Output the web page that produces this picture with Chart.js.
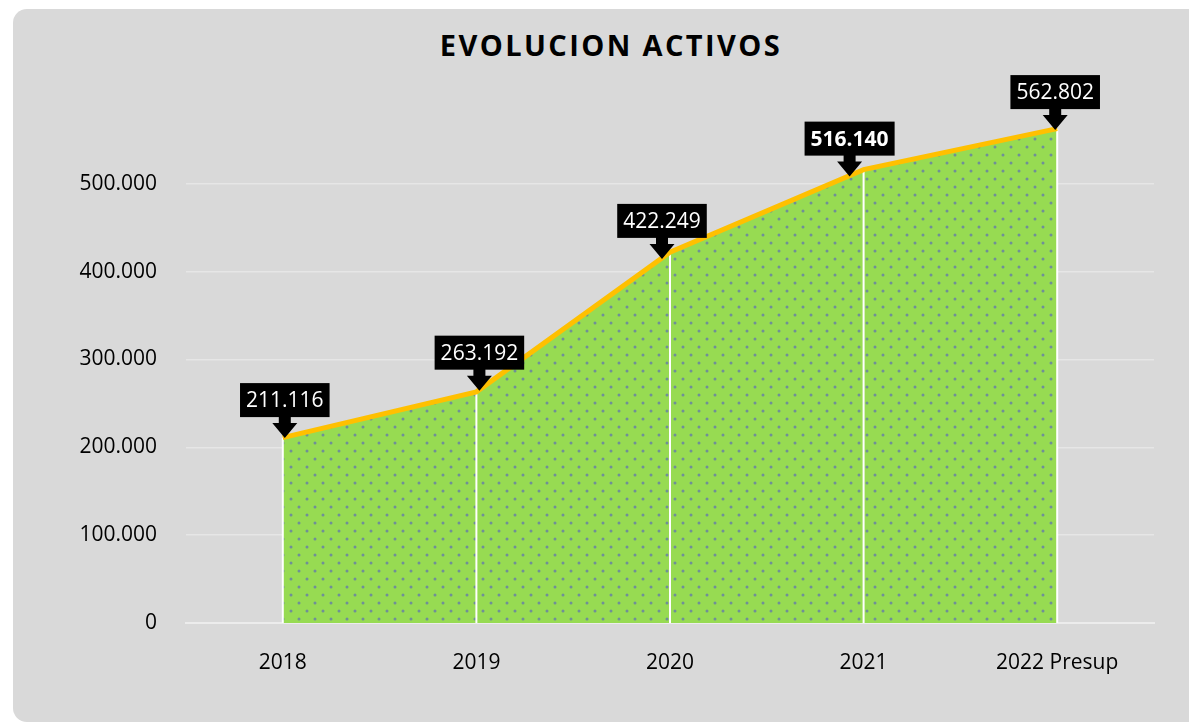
<!DOCTYPE html>
<html>
<head>
<meta charset="utf-8">
<script src="https://cdn.jsdelivr.net/npm/chart.js@4"></script>
<style>
  html, body { margin: 0; padding: 0; background: #fff; overflow: hidden; }
  #panel {
    position: absolute; left: 13px; top: 9px; width: 1196px; height: 713px;
    background: #d9d9d9; border-radius: 14px;
  }
  #title {
    position: absolute; left: 13px; top: 25px; width: 1196px; text-align: center;
    font-family: "Open Sans", sans-serif; font-weight: bold; font-size: 29px;
    letter-spacing: 2.4px; color: #000;
  }
  #wrap { position: absolute; left: 0; top: 0; width: 1189px; height: 723px; }
</style>
</head>
<body>
<div id="panel"></div>
<div id="title">EVOLUCION ACTIVOS</div>
<div id="wrap"><canvas id="activosChart" width="1189" height="723"></canvas></div>
<script>
// Data
const years = ['2018', '2019', '2020', '2021', '2022 Presup'];
const activos = [211116, 263192, 422249, 516140, 562802];
const yTicks = [0, 100000, 200000, 300000, 400000, 500000];

// number format with dots as thousand separator
function fmt(v) {
  return String(v).replace(/\B(?=(\d{3})+(?!\d))/g, '.');
}

// dotted green fill pattern
function makePattern() {
  const c = document.createElement('canvas');
  c.width = 16; c.height = 16;
  const g = c.getContext('2d');
  g.fillStyle = '#97db52';
  g.fillRect(0, 0, 16, 16);
  g.fillStyle = '#6f8f98';
  [[3, 3], [11, 11]].forEach(p => {
    g.beginPath();
    g.arc(p[0], p[1], 1.5, 0, Math.PI * 2);
    g.fill();
  });
  return g.createPattern(c, 'repeat');
}

// white drop lines, drawn after fill but before the line
const dropLines = {
  id: 'dropLines',
  beforeDatasetDraw(chart) {
    const ctx = chart.ctx;
    const pts = chart.getDatasetMeta(0).data;
    const base = chart.scales.y.getPixelForValue(0);
    ctx.save();
    ctx.strokeStyle = '#ffffff';
    ctx.lineWidth = 2;
    pts.forEach(p => {
      ctx.beginPath();
      ctx.moveTo(p.x, p.y);
      ctx.lineTo(p.x, base);
      ctx.stroke();
    });
    ctx.restore();
  }
};

// black callout labels with arrow
const callouts = {
  id: 'callouts',
  afterDatasetsDraw(chart, args, opts) {
    const ctx = chart.ctx;
    const pts = chart.getDatasetMeta(0).data;
    const shift = opts.shift || [];
    ctx.save();
    pts.forEach((p, i) => {
      const tipX = p.x + (shift[i] || 0);
      // y of the line at tipX
      let tipY = p.y;
      const j = tipX < p.x ? i - 1 : i + 1;
      if (pts[j]) {
        const q = pts[j];
        tipY = p.y + (q.y - p.y) * (tipX - p.x) / (q.x - p.x);
      }
      tipY += 1;
      ctx.font = (i === opts.boldIndex ? 'bold ' : '') + '21px "Open Sans", sans-serif';
      const txt = fmt(activos[i]);
      const w = Math.max(ctx.measureText(txt).width + 12, 88);
      const h = 34;
      const boxBottom = tipY - 21;
      ctx.fillStyle = '#000';
      ctx.fillRect(tipX - w / 2, boxBottom - h, w, h);
      // shaft + head
      ctx.beginPath();
      ctx.moveTo(tipX - 6, boxBottom - 1);
      ctx.lineTo(tipX + 6, boxBottom - 1);
      ctx.lineTo(tipX + 6, boxBottom + 6);
      ctx.lineTo(tipX + 12.5, boxBottom + 6);
      ctx.lineTo(tipX, tipY);
      ctx.lineTo(tipX - 12.5, boxBottom + 6);
      ctx.lineTo(tipX - 6, boxBottom + 6);
      ctx.closePath();
      ctx.fill();
      ctx.fillStyle = '#fff';
      ctx.textAlign = 'center';
      ctx.textBaseline = 'middle';
      ctx.fillText(txt, tipX, boxBottom - h / 2 + 1);
    });
    ctx.restore();
  }
};

const ctx = document.getElementById('activosChart').getContext('2d');
const activosChart = new Chart(ctx, {
  type: 'line',
  data: {
    labels: years,
    datasets: [{
      label: 'Activos',
      data: activos,
      borderColor: '#ffc000',
      borderWidth: 5,
      backgroundColor: makePattern(),
      fill: 'origin',
      pointRadius: 0,
      tension: 0
    }]
  },
  options: {
    responsive: false,
    animation: false,
    layout: { padding: { top: 96, right: 35, left: 0, bottom: 0 } },
    plugins: {
      legend: { display: false },
      tooltip: { enabled: false },
      callouts: { shift: [2, 3, -8, -14, -2], boldIndex: 3 }
    },
    scales: {
      x: {
        offset: true,
        grid: { display: false },
        border: { display: true, color: '#ececec', width: 2 },
        ticks: { color: '#000', padding: 19, font: { family: 'Open Sans', size: 21 } },
        afterFit(scale) { scale.height = 100; }
      },
      y: {
        min: 0,
        max: 600000,
        grid: { color: '#e6e6e6', lineWidth: 1.5, drawTicks: false },
        border: { display: false },
        afterBuildTicks(axis) {
          axis.ticks = yTicks.map(v => ({ value: v }));
        },
        ticks: {
          color: '#000',
          padding: 29,
          font: { family: 'Open Sans', size: 21 },
          callback: v => fmt(v)
        },
        afterFit(scale) { scale.width = 186; }
      }
    }
  },
  plugins: [dropLines, callouts]
});
</script>
</body>
</html>
